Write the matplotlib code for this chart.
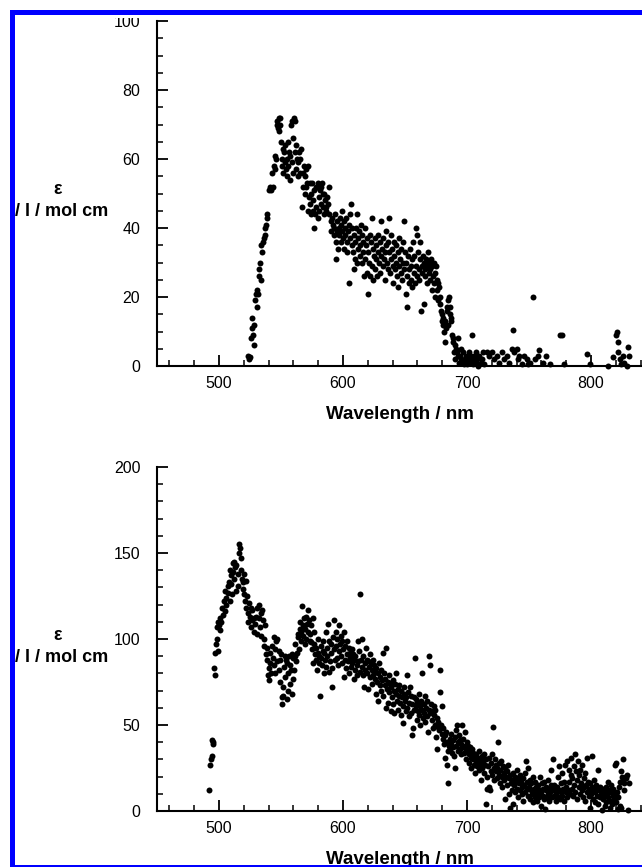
import matplotlib
matplotlib.use("Agg")
import matplotlib.pyplot as plt
from matplotlib.patches import Rectangle
from matplotlib.ticker import MultipleLocator
import numpy as np

plt.rcParams['font.family'] = ['Liberation Sans', 'DejaVu Sans']

# ---- data: (wavelength nm, epsilon) ----
top_points = [
(523,3),(524,2),(525,2.5),(526,8),(526.5,11),(527,14),(527.5,9),(528,6),(528.5,12),(529,19),(530,21),(530.5,17),(531,22),(531.5,21),(532,26),(532.5,28),(533,30),(533.5,25),(534,35),(535,33),(535.5,36),(536,37),(537,38),(537.5,40),(538,41),(538.5,43),(539,44),(540,51),(541,52),(542,51),
(543,56),(543.5,52),(544,58),(545,61),(545.5,57),(546,60),(546.5,70),(547,71),(547.5,69),(548,72),(548.5,68),(549,70),(549.5,72),(550,65),(550.5,60),(551,58),(551.5,63),(552,56),(552.5,62),(553,59),(553.5,64),(554,57),(554.5,60),(555,55),(555.5,65),(556,58),(556.5,62),(557,61),(557.5,54),(558,70),(558.5,71),(559,59),(559.5,66),(560,56),(560.5,72),(561,71),(561.5,62),(562,57),(562.5,64),(563,60),(563.5,55),(564,59),(564.5,62),(565,56),(565.5,60),(566,63),
(567,46),(567.5,52),(568,56),(568.5,58),(569,50),(569.5,55),(570,52),(570.5,57),(571,53),(571.5,58),(572,45),(572.5,49),(573,53),(573.5,47),(574,44),(574.5,50),(575,53),(575.5,48),(576,45),(576.5,40),(577,51),(577.5,44),(578,52),(578.5,46),(579,52),(579.5,43),(580,53),(580.5,49),(581,45),(581.5,51),(582,52),(582.5,47),(583,53),(583.5,50),(584,46),(584.5,44),(585,50),(585.5,48),(586,46),(586.5,45),(587,49),(588,47),(588.5,52),(589,44),(590,42),(590.5,39),(591,43),(592,41),(592.5,38),(593,40),(593.5,44),(594,36),(594.5,31),(595,39),(595.5,42),(596,34),(596.5,40),(597,38),(597.5,43),(598,36),(598.5,41),(599,39),(599.5,45),(600,37),(600.5,42),(601,34),(601.5,40),(602,38),(602.5,43),(603,36),(603.5,33),(604,39),(604.5,41),(605,24),(605.5,37),(606,44),(606.5,47),(607,35),(607.5,40),(608,33),(608.5,28),(609,38),(609.5,31),
(610,36),(610.5,40),(611,30),(611.5,44),(612,34),(612.5,37),(613,39),(613.5,32),(614,35),(614.5,41),(615,30),(615.5,38),(616,36),(616.5,33),(617,26),(617.5,40),(618,31),(618.5,35),(619,27),(619.5,37),(620,33),(620.5,21),(621,30),(621.5,38),(622,26),(622.5,36),(623,43),(623.5,29),(624,34),(624.5,25),(625,32),(625.5,37),(626,28),(626.5,35),(627,31),(627.5,26),(628,33),(628.5,38),(629,30),(629.5,27),(630,36),(630.5,32),(631,42),(631.5,34),(632,29),(632.5,37),(633,31),(633.5,33),(634,25),(634.5,39),(635,35),(635.5,30),(636,28),(636.5,36),(637,33),(637.5,43),(638,27),(638.5,31),(639,38),(639.5,34),(640,29),(640.5,24),(641,36),(641.5,32),(642,28),(642.5,35),(643,30),(643.5,26),(644,33),(644.5,23),(645,29),(645.5,37),(646,31),(646.5,27),(647,34),(647.5,25),(648,36),(648.5,30),(649,42),(649.5,28),(650,33),(650.5,21),(651,30),(651.5,26),(652,17),(652.5,32),(653,28),(653.5,24),(654,34),(654.5,29),(655,25),(655.5,31),(656,23),(656.5,36),(657,27),(657.5,32),(658,24),(658.5,29),(659,40),(659.5,38),(660,26),(660.5,33),(661,28),(661.5,25),(662,31),(662.5,36),(663,16),(663.5,29),(664,27),(664.5,32),(665,18),(665.5,30),(666,26),(666.5,28),(667,31),(667.5,24),(668,29),(668.5,33),(669,27),(669.5,30),(670,25),(670.5,28),(671,31),(671.5,22),(672,29),(672.5,26),(673,30),(673.5,24),(674,27),(674.5,20),(675,29),(675.5,25),(676,22),(676.5,19),(677,24),(677.5,23),(678,20),(678.5,18),
(679,16),(679.5,13),(680,15),(680.5,12),(681,14),(681.5,10),(682,7),(682.5,13),(683,11),(683.5,16),(684,17),(684.5,12),(685,19),(685.5,20),(686,15),(686.5,17),(687,14),(687.5,13),(688,9),(688.5,7),(689,8),(689.5,4),(690,6),(690.5,2),(691,5),(692,4),(692.5,3),(693,8),(693.5,1),(694,3),(695,5),(695.5,2),(696,1),(697,4),(697.5,0.5),(698,2),(699,3),(699.5,1),(700,0.5),(701,2),(702,4),(702.5,1),(703,3),(704,9),(704.5,2),(705,0.5),(706,3),(707,1),(707.5,4),(708,2),(709,0),(710,3),(711,1),(712,2),(713,4),(714,0.5),(716,4),(718,3),(720,4),(722,2),(724,3),(726,1),(728,4),(730,2),(732,3),(734,1),(736,5),(737,10.5),(738,4),(740,5),(741,2),(742,3),(744,0.5),(746,3),(748,2),(749,0.5),(751,1),(753,20),(755,2),(757,3),(758,4.5),(761,1),(764,3),(767,0.5),(775,9),(777,9),(778,0.5),(797,3.5),(799,0.5),(814,0),(818,2.5),(820,9),(821,10),(821.5,7),(822,4),(823,2),(824,0.5),(826,3),(827,1),(829,0),(830,5.5),(831,3),
]

bottom_points = [
(492,12),(493,27),(493.5,30),(494,41),(494.5,32),(495,40),(495.5,39),(496,83),(496.5,79),(497,92),(497.5,97),(498,100),(498.5,107),(499,110),(499.5,93),(500,108),(500.5,112),(501,105),(502,110),(502.5,118),(503,114),(504,122),(504.5,116),(505,128),(505.5,120),(506,124),(507,131),(507.5,127),(508,133),(508.5,122),(509,140),(509.5,132),(510,137),(510.5,126),(511,144),(511.5,139),(512,135),(512.5,145),(513,142),(513.5,128),(514,143),(515,138),(515.5,131),(516,155),(516.5,150),(517,153),(517.5,147),(518,140),(518.5,135),(519,129),(519.5,133),(520,138),(520.5,126),(521,122),(521.5,134),(522,118),(522.5,125),(523,110),(523.5,115),(524,121),(525,113),(525.5,118),(526,107),(526.5,111),(527,117),(528,112),(528.5,104),(529,109),(530,113),(530.5,103),(531,118),(532,120),(532.5,112),(533,107),(533.5,115),(534,102),(535,117),(535.5,111),(536,100),(536.5,96),(537,108),(538,91),(538.5,95),(539,88),(539.5,79),(540,83),(540.5,76),(541,92),(541.5,86),(542,80),(543,96),(543.5,89),(544,85),(544.5,101),(545,94),(545.5,80),(546,99),(546.5,87),(547,100),(548,93),(548.5,82),(549,88),(549.5,75),(550,91),(550.5,62),(551,66),(551.5,72),(552,67),(552.5,84),(553,90),(553.5,78),(554,88),(554.5,65),(555,86),(555.5,70),(556,80),(556.5,90),(557,74),(557.5,85),(558,82),(558.5,68),(559,91),(559.5,89),(560,77),(560.5,82),(561,97),(561.5,90),(562,87),(563,92),(563.5,103),(564,101),(564.5,94),(565,110),(565.5,106),(566,99),(566.5,104),(567,119),(567.5,108),(568,102),(568.5,112),(569,97),(569.5,106),(570,100),(570.5,113),(571,109),(571.5,104),(572,117),(572.5,111),(573,99),(573.5,103),(574,98),(574.5,108),(575,94),(575.5,86),(576,112),(576.5,97),(577,104),(577.5,91),(578,88),(578.5,95),(579,82),(579.5,92),(580,100),(580.5,86),(581,90),(581.5,67),(582,96),(582.5,89),(583,85),(583.5,93),(584,99),(584.5,80),(585,92),(585.5,88),(586,104),(586.5,84),(587,90),(587.5,95),(588,109),(588.5,81),(589,99),(589.5,87),(590,92),(590.5,97),(591,83),(591.5,72),(592,101),(592.5,94),(593,111),(593.5,88),(594,96),(594.5,104),(595,89),(595.5,100),(596,85),(596.5,108),(597,93),(597.5,97),(598,90),(598.5,102),(599,86),(599.5,99),(600,94),(600.5,78),(601,104),(601.5,88),(602,96),(602.5,83),(603,91),(603.5,99),(604,87),(604.5,95),(605,80),(605.5,92),(606,89),(606.5,84),(607,94),(607.5,86),(608,91),(608.5,77),(609,88),(609.5,82),(610,90),(611,85),(611.5,79),(612,99),(612.5,87),(613,93),(613.5,81),(614,126),(614.5,88),(615,84),(615.5,100),(616,79),(616.5,90),(617,72),(617.5,86),(618,82),(618.5,95),(619,88),(619.5,80),(620,87),(620.5,71),(621,84),(621.5,91),(622,78),(622.5,86),(623,82),(623.5,74),(624,88),(624.5,79),(625,85),(625.5,77),(626,81),(626.5,68),(627,83),(627.5,75),(628,80),(628.5,64),(629,86),(629.5,73),(630,78),(630.5,82),(631,70),(631.5,76),(632,92),(632.5,67),(633,80),(633.5,73),(634,77),(634.5,60),(635,95),(635.5,71),(636,75),(636.5,63),(637,79),(637.5,69),(638,74),(638.5,58),(639,72),(639.5,66),(640,76),(640.5,62),(641,70),(641.5,57),(642,74),(642.5,68),(643,80),(643.5,64),(644,71),(644.5,59),(645,67),(645.5,73),(646,63),(646.5,56),(647,70),(647.5,66),(648,61),(648.5,51),(649,68),(649.5,72),(650,64),(650.5,58),(651,66),(651.5,79),(652,60),(652.5,69),(653,55),(653.5,63),(654,72),(654.5,57),(655,67),(655.5,44),(656,62),(656.5,48),(657,66),(657.5,59),(658,89),(658.5,61),(659,65),(659.5,53),(660,63),(660.5,58),(661,68),(661.5,56),(662,61),(662.5,50),(663,64),(663.5,59),(664,80),(664.5,54),(665,62),(665.5,57),(666,67),(666.5,52),(667,60),(667.5,55),(668,64),(668.5,46),(669,59),(669.5,90),(670,57),(670.5,85),(671,62),(671.5,53),(672,58),(672.5,48),(673,56),(673.5,61),(674,50),(674.5,59),(675,43),(675.5,54),(676,36),(676.5,49),(677,52),(677.5,47),(678,82),(678.5,69),(679,50),(679.5,45),(680,61),(680.5,42),(681,48),(681.5,39),(682,44),(682.5,31),(683,46),(683.5,27),(684,40),(684.5,35),(685,16),(685.5,38),(686,42),(686.5,36),(687,45),(687.5,39),(688,34),(688.5,41),(689,37),(689.5,32),(690,43),(690.5,25),(691,47),(691.5,38),(692,50),(692.5,35),(693,40),(693.5,44),(694,36),(694.5,41),(695,33),(695.5,39),(696,50),(696.5,37),(697,42),(697.5,34),(698,38),(698.5,46),(699,36),(699.5,30),(700,40),(700.5,35),(701,38),(701.5,28),(702,33),(702.5,37),(703,31),(703.5,25),(704,36),(704.5,30),(705,34),(705.5,27),(706,32),(706.5,22),(707,29),(707.5,33),(708,26),(708.5,31),(709,28),(709.5,35),(710,24),(710.5,30),(711,27),(711.5,18),(712,32),(712.5,25),(713,29),(713.5,22),(714,33),(714.5,27),(715,30),(715.5,4),(716,20),(716.5,13),(717,26),(717.5,14),(718,31),(718.5,12),(719,23),(719.5,28),(720,33),(720.5,21),(721,49),(721.5,25),(722,18),(722.5,30),(723,23),(723.5,27),(724,19),(724.5,25),(725,40),(725.5,21),(726,28),(726.5,16),(727,24),(727.5,29),(728,20),(728.5,14),(729,26),(729.5,22),(730,18),(730.5,25),(731,7),(731.5,20),(732,23),(732.5,15),(733,27),(733.5,19),(734,10),(734.5,21),(735,2),(735.5,16),(736,18),(736.5,12),(737,22),(737.5,4),(738,15),(738.5,20),(739,11),(739.5,17),(740,24),(740.5,13),(741,19),(741.5,8),(742,16),(742.5,21),(743,12),(743.5,17),(744,14),(744.5,10),(745,19),(745.5,6),(746,15),(746.5,22),(747,11),(747.5,29),(748,13),(748.5,17),(749,9),(749.5,25),(750,14),(750.5,18),(751,7),(751.5,12),(752,16),(752.5,10),(753,20),(753.5,5),(754,13),(754.5,8),(755,17),(755.5,11),(756,14),(756.5,6),(757,10),(757.5,15),(758,8),(758.5,12),(759,20),(759.5,3),(760,11),(760.5,16),(761,9),(761.5,13),(762,7),(762.5,17),(763,1),(763.5,12),(764,14),(764.5,8),(765,10),(765.5,18),(766,6),(766.5,13),(767,11),(767.5,15),(768,24),(768.5,8),(769,12),(769.5,30),(770,9),(770.5,15),(771,13),(771.5,6),(772,10),(772.5,14),(773,8),(773.5,20),(774,12),(774.5,26),(775,7),(775.5,16),(776,11),(776.5,22),(777,9),(777.5,13),(778,17),(778.5,6),(779,27),(779.5,11),(780,14),(780.5,29),(781,8),(781.5,12),(782,24),(782.5,17),(783,10),(783.5,21),(784,31),(784.5,13),(785,19),(785.5,9),(786,26),(786.5,15),(787,33),(787.5,11),(788,23),(788.5,7),(789,18),(789.5,29),(790,14),(790.5,21),(791,10),(791.5,24),(792,16),(792.5,12),(793,27),(793.5,8),(794,19),(794.5,14),(795,22),(795.5,6),(796,15),(796.5,11),(797,31),(797.5,17),(798,9),(798.5,13),(799,2),(799.5,16),(800,10),(800.5,32),(801,14),(801.5,7),(802,12),(802.5,18),(803,5),(803.5,11),(804,15),(804.5,9),(805,13),(805.5,24),(806,4),(806.5,12),(807,8),(807.5,14),(808,10),(808.5,0.5),(809,12),(809.5,7),(810,13),(810.5,9),(811,3),(811.5,11),(812,14),(812.5,5),(813,10),(813.5,17),(814,8),(814.5,12),(815,6),(815.5,2),(816,11),(816.5,15),(817,4),(817.5,9),(818,13),(818.5,7),(819,27),(819.5,10),(820,28),(820.5,5),(821,11),(821.5,1),(822,8),(822.5,14),(823,3),(823.5,17),(824,23),(824.5,2),(825,20),(825.5,18),(826,30),(826.5,16),(827,12),(827.5,20),(828,19),(829,21),(830,0.5),(831,16),
]

x_ticks = [500, 600, 700, 800]
top_yticks = [0, 20, 40, 60, 80, 100]
bot_yticks = [0, 50, 100, 150, 200]
xlabel = "Wavelength / nm"
ylabel_sym = "ε"
ylabel_unit = "/ l / mol cm"

W, H = 642, 867
fig = plt.figure(figsize=(W/100, H/100), dpi=100)

def px_rect(l, t, r, b):
    return [l/W, 1 - b/H, (r - l)/W, (b - t)/H]

def style(ax, yticks, ymax, minor_y):
    ax.set_xlim(450, 450 + (W - 157)/1.24)
    ax.set_ylim(0, ymax)
    ax.set_xticks(x_ticks)
    ax.set_yticks(yticks)
    ax.xaxis.set_minor_locator(MultipleLocator(20))
    ax.yaxis.set_minor_locator(MultipleLocator(minor_y))
    for s in ['top', 'right']:
        ax.spines[s].set_visible(False)
    for s in ['left', 'bottom']:
        ax.spines[s].set_linewidth(1.5)
    ax.tick_params(which='major', direction='in', length=8, width=1.3,
                   labelsize=11.5, top=False, right=False)
    ax.tick_params(which='minor', direction='in', length=4, width=1.1,
                   top=False, right=False)
    ax.tick_params(axis='x', which='major', pad=7)
    ax.tick_params(axis='y', which='major', pad=12)
    ax.set_xlabel(xlabel, fontsize=13.5, fontweight='bold', labelpad=11)
    ax.patch.set_alpha(0)

ax1 = fig.add_axes(px_rect(157, 21, W, 366))
x1 = [p[0] for p in top_points]
y1 = [p[1] for p in top_points]
ax1.plot(x1, y1, 'o', color='black', ms=4.3, mew=0, clip_on=False)
style(ax1, top_yticks, 100, 5)

ax2 = fig.add_axes(px_rect(157, 467, W, 811))
x2 = [p[0] for p in bottom_points]
y2 = [p[1] for p in bottom_points]
ax2.plot(x2, y2, 'o', color='black', ms=4.3, mew=0, clip_on=False)
style(ax2, bot_yticks, 200, 10)

for yc_sym, yc_unit in [(190, 212), (636, 658)]:
    fig.text(58/W, 1 - yc_sym/H, ylabel_sym, ha='center', va='center',
             fontsize=13, fontweight='bold')
    fig.text(108/W, 1 - yc_unit/H, ylabel_unit, ha='right', va='center',
             fontsize=13, fontweight='bold')

# white cover then blue frame (figure cropped on right side)
fig.add_artist(Rectangle((0, 0), 10/W, 1, transform=fig.transFigure,
                         color='white', zorder=10))
fig.add_artist(Rectangle((0, 1 - 17.5/H), 1, 17.5/H, transform=fig.transFigure,
                         color='white', zorder=10, lw=0))
fig.add_artist(Rectangle((10/W, 1 - 15/H), 1, 5/H, transform=fig.transFigure,
                         color='#0000ff', zorder=11, lw=0))
fig.add_artist(Rectangle((10/W, 0), 5/W, 1 - 10/H, transform=fig.transFigure,
                         color='#0000ff', zorder=11, lw=0))
fig.add_artist(Rectangle((10/W, 0), 1, 2.5/H, transform=fig.transFigure,
                         color='#0000ff', zorder=11, lw=0))

fig.savefig('out.png', dpi=100)
